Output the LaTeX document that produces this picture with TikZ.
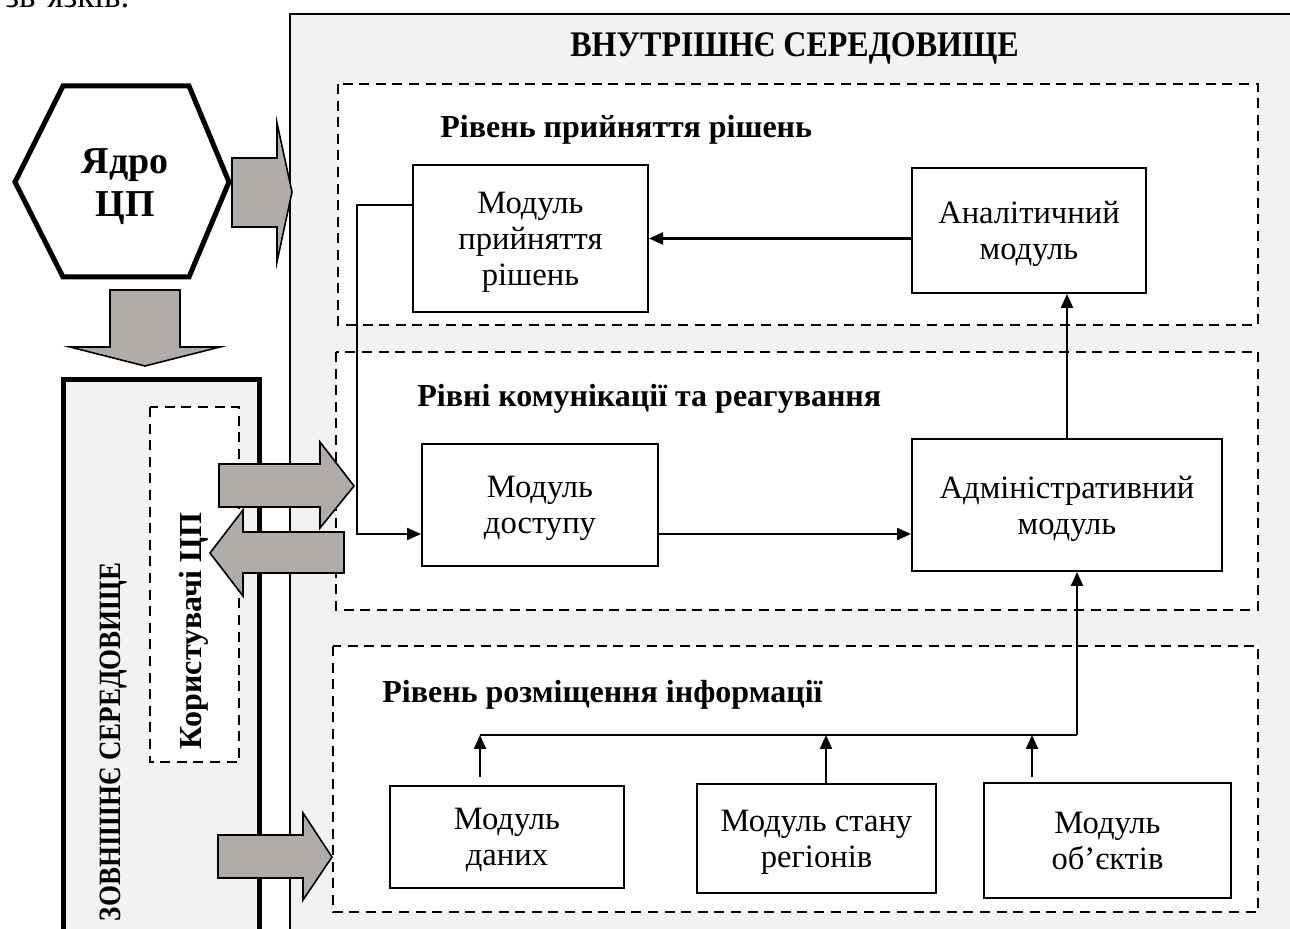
\documentclass[tikz,border=0pt]{standalone}
\usepackage{fontspec}
\setmainfont{Liberation Serif}
\usetikzlibrary{arrows.meta}
\definecolor{envgray}{RGB}{242,242,242}
\definecolor{arrgray}{RGB}{176,172,170}

\begin{document}
\begin{tikzpicture}[x=0.5pt,y=-0.5pt,
    module/.style={draw,line width=1pt,fill=white,align=center,inner sep=0pt,text depth=0pt,
      font=\fontsize{16.3}{18}\selectfont},
    level/.style={draw,line width=1.1pt,fill=white,dash pattern=on 5pt off 3.3pt},
    levelname/.style={anchor=base west,inner sep=0pt,font=\fontsize{16}{19}\selectfont\bfseries},
    conn/.style={line width=1.1pt,-{Triangle[length=7pt,width=6pt]}},
    bigarrow/.style={draw,line width=0.8pt,fill=arrgray,line join=miter}]
    \useasboundingbox (0,0) rectangle (1290,929);
    % tail of the text line above the figure
    \node[anchor=base west,inner sep=0pt,font=\fontsize{17.5}{20}\selectfont] (prevline) at (5,8) {зв’язків.};

    % internal environment
    \draw[line width=1pt,fill=envgray] (290,14) rectangle (1320,960);
    \node[anchor=base,inner sep=0pt,font=\fontsize{18}{21}\selectfont\bfseries] (inner) at (794.5,57) {\scalebox{0.89}[1]{ВНУТРІШНЄ СЕРЕДОВИЩЕ}};

    \draw[level] (338,84) rectangle (1258,325);
    \draw[level] (336,352) rectangle (1258,610);
    \draw[level] (333,646) rectangle (1258,912);
    \node[levelname] (lv1) at (440,138) {Рівень прийняття рішень};
    \node[levelname] (lv2) at (417,407) {Рівні комунікації та реагування};
    \node[levelname] (lv3) at (382,703) {Рівень розміщення інформації};

    % modules
    \node[module,minimum width=117.5pt,minimum height=73.5pt] (decision) at (530.5,238.5) {Модуль\\прийняття\\рішень};
    \node[module,minimum width=117pt,minimum height=62.5pt] (analytic) at (1029,230.5) {Аналітичний\\модуль};
    \node[module,minimum width=118pt,minimum height=61pt] (access) at (540,505) {Модуль\\доступу};
    \node[module,minimum width=155pt,minimum height=66pt] (admin) at (1067,505) {Адміністративний\\модуль};
    \node[module,minimum width=117pt,minimum height=51pt] (data) at (507,837) {Модуль\\даних};
    \node[module,minimum width=119.5pt,minimum height=54.5pt] (regions) at (816.5,838.5) {Модуль стану\\регіонів};
    \node[module,minimum width=123.5pt,minimum height=57.5pt] (objects) at (1107.5,840.5) {Модуль\\об’єктів};

    % links
    \coordinate (jA) at (357,205);
    \coordinate (jB) at (357,534);
    \coordinate (busL) at (480,735);
    \coordinate (busR) at (1077,735);
    \coordinate (busM) at (826,735);
    \coordinate (busO) at (1032,735);
    \draw[conn] (decision.west |- jA) -- (jA) -- (jB) -- (access.west |- jB);
    \draw[conn] (access.east |- jB) -- (admin.west |- jB);
    \draw[conn] (decision.east -| analytic.west) -- (decision.east);
    \draw[conn] (admin.north) -- (analytic.south -| admin.north);
    \draw[line width=1.1pt] (busL) -- (busR);
    \draw[conn] (busR) -- (admin.south -| busR);
    \draw[conn,shorten <=4pt] (data.north -| busL) -- (busL);
    \draw[conn] (regions.north -| busM) -- (busM);
    \draw[conn,shorten <=2.5pt] (objects.north -| busO) -- (busO);

    % core
    \draw[line width=2.5pt,fill=white] (15,182) -- (63,86) -- (189,86) -- (229,182) -- (189,277) -- (63,277) -- cycle;
    \node[align=center,font=\fontsize{19}{21.5}\selectfont\bfseries] (core) at (125,187) {Ядро\\ЦП};

    % external environment
    \draw[line width=2.5pt,fill=envgray] (63,380) rectangle (259,960);
    \draw[line width=1pt,fill=white,dash pattern=on 5pt off 3.3pt] (150,407) rectangle (239,762);
    \node[rotate=90,font=\fontsize{15.5}{18}\selectfont\bfseries] (outer) at (114,742) {\scalebox{0.87}[1]{ЗОВНІШНЄ СЕРЕДОВИЩЕ}};
    \node[rotate=90,font=\fontsize{16}{19}\selectfont\bfseries] (users) at (194,631) {Користувачі ЦП};

    % block arrows
    \draw[bigarrow] (232,158) -- (277,158) -- (277,123) -- (292,192) -- (277,262) -- (277,227) -- (232,227) -- cycle;
    \draw[bigarrow] (110,290) -- (180,290) -- (180,347) -- (220,347) -- (145,366) -- (70,347) -- (110,347) -- cycle;
    \draw[bigarrow] (219,464) -- (320,464) -- (320,442) -- (354,486) -- (320,528) -- (320,507) -- (219,507) -- cycle;
    \draw[bigarrow] (344,532) -- (243,532) -- (243,510) -- (210,553) -- (243,596) -- (243,573) -- (344,573) -- cycle;
    \draw[bigarrow] (218,835) -- (303,835) -- (303,813) -- (332,857) -- (303,900) -- (303,878) -- (218,878) -- cycle;
  \end{tikzpicture}
\end{document}
